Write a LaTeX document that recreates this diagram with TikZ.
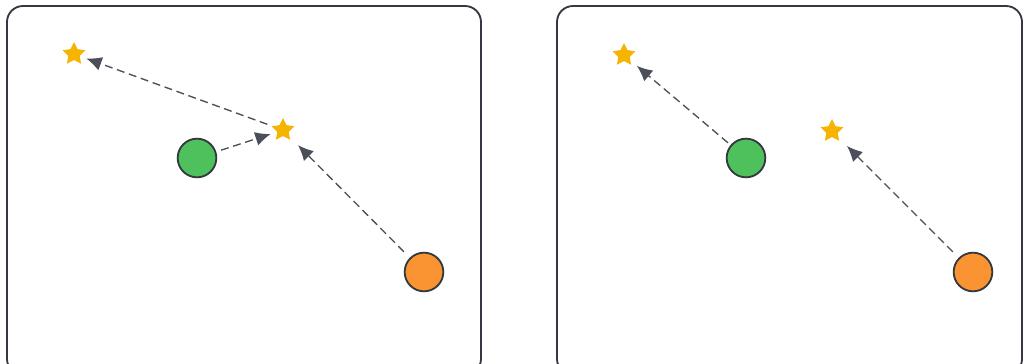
\documentclass[tikz,border=0pt]{standalone}
\usetikzlibrary{positioning,arrows.meta,shapes.geometric}
\definecolor{panelLine}{RGB}{52,56,64}
\definecolor{hopLine}{RGB}{74,79,90}
\definecolor{starFill}{RGB}{245,180,0}
\definecolor{greenFill}{RGB}{78,193,92}
\definecolor{orangeFill}{RGB}{250,148,50}
\tikzset{
  panel/.style={draw=panelLine, line width=0.055cm, rounded corners=0.48cm, fill=white},
  ball/.style={circle, draw=panelLine, line width=0.055cm, minimum size=1.16cm, inner sep=0pt},
  prize/.style={star, star points=5, star point ratio=2.0, fill=starFill, draw=none,
                minimum size=0.72cm, inner sep=0pt},
  hop/.style={-{Latex[length=4.6mm,width=4.2mm]}, draw=hopLine, line width=0.04cm,
              dash pattern=on 0.24cm off 0.14cm, shorten <=0.15cm, shorten >=0.2cm},
}
\begin{document}
\begin{tikzpicture}[x=0.03cm,y=-0.03cm]
  \useasboundingbox (0,0) rectangle (1024,364);
  \clip (0,0) rectangle (1024,364);

  % left panel
  \draw[panel] (7,6) rectangle (481,375);
  \node[prize] (starLa) at (74,54) {};
  \node[prize] (starLb) at (283,130) {};
  \node[ball, fill=greenFill] (greenL) at (197,158) {};
  \node[ball, fill=orangeFill] (orangeL) at (424,272) {};
  \draw[hop] (greenL) -- (starLb);
  \draw[hop] (starLb) -- (starLa);
  \draw[hop, shorten <=0.25cm, shorten >=0.35cm] (orangeL) -- (starLb);

  % right panel
  \draw[panel] (557,6) rectangle (1022,375);
  \node[prize] (starRa) at (624,55) {};
  \node[prize] (starRb) at (832,131) {};
  \node[ball, fill=greenFill] (greenR) at (746,158) {};
  \node[ball, fill=orangeFill] (orangeR) at (973,272) {};
  \draw[hop, shorten <=0.1cm, shorten >=0.25cm] (greenR) -- (starRa);
  \draw[hop, shorten <=0.25cm, shorten >=0.35cm] (orangeR) -- (starRb);
\end{tikzpicture}
\end{document}
